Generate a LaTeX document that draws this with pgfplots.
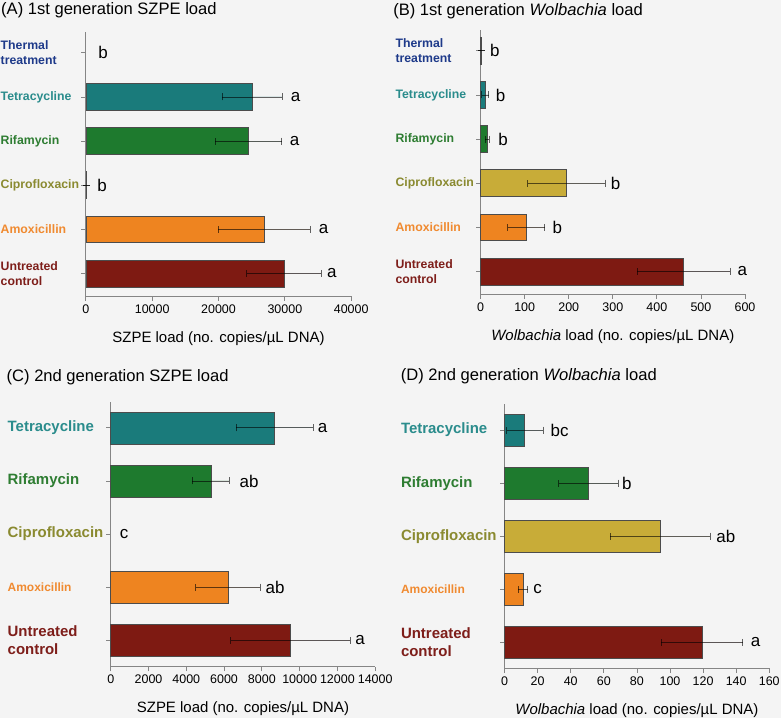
\documentclass[border=0pt]{standalone}
\usepackage{pgfplots}
\pgfplotsset{compat=1.18}
\usepackage{fontspec}
\setmainfont{Liberation Sans}
\definecolor{bg}{HTML}{F4F4F4}
\definecolor{thermL}{HTML}{1E3A8A}
\definecolor{tetB}{HTML}{1A7B7B}
\definecolor{tetL}{HTML}{2A8C8C}
\definecolor{rifB}{HTML}{1E7A2E}
\definecolor{rifL}{HTML}{2E7D32}
\definecolor{ciB}{HTML}{C8AC38}
\definecolor{ciL}{HTML}{8A8A30}
\definecolor{amB}{HTML}{EE8420}
\definecolor{amL}{HTML}{F08A30}
\definecolor{unB}{HTML}{7E1A12}
\definecolor{unL}{HTML}{7E1E1A}
\definecolor{axgray}{HTML}{858585}
\tikzset{lett/.style={anchor=west, inner sep=0pt, font=\fontsize{17}{20}\selectfont}}
\pgfplotsset{
 panel/.style={
  scale only axis, anchor=south west, xbar, bar shift=0pt,
  axis x line*=bottom, axis y line*=left,
  axis line style={axgray, line width=0.8pt},
  tick style={axgray, line width=0.8pt},
  tick align=outside, major tick length=4.5pt,
  xmin=0, scaled x ticks=false,
  /pgf/number format/1000 sep={},
  /pgf/number format/assume math mode=true,
  xticklabel style={font=\fontsize{12.5}{15}\selectfont},
  yticklabel style={font=\fontsize{12.3}{14.6}\selectfont\bfseries, align=left, anchor=west, inner sep=0pt},
  x label style={at={(axis description cs:0.5,0)}, anchor=base, yshift=-46pt, font=\fontsize{15}{18}\selectfont},
  every axis plot/.append style={draw=black!70, line width=0.6pt},
  error bars/x dir=both, error bars/x explicit,
  error bars/error mark=|,
  error bars/error bar style={draw=black, draw opacity=0.6, line width=0.8pt},
  error bars/error mark options={draw=black, draw opacity=0.6, mark size=3.5pt, line width=0.8pt},
  clip=false,
 },
}
\begin{document}
\begin{tikzpicture}[x=1pt,y=1pt]
\fill[bg] (0,0) rectangle (783,720);
\node[anchor=base west, inner sep=0pt, font=\fontsize{16.6}{20}\selectfont] at (1,705) {(A) 1st generation SZPE load};
\node[anchor=base west, inner sep=0pt, font=\fontsize{16.6}{20}\selectfont] at (394,704) {(B) 1st generation \textit{Wolbachia} load};
\node[anchor=base west, inner sep=0pt, font=\fontsize{16.6}{20}\selectfont] at (6.5,337.5) {(C) 2nd generation SZPE load};
\node[anchor=base west, inner sep=0pt, font=\fontsize{16.6}{20}\selectfont] at (401.5,338.5) {(D) 2nd generation \textit{Wolbachia} load};

% (A)
\begin{axis}[panel, at={(86pt,423pt)}, width=266pt, height=265pt,
  xmax=40000, xtick={0,10000,20000,30000,40000},
  ymin=-0.52, ymax=5.475, ytick={0,1,2,3,4,5}, bar width=0.61,
  yticklabel style={xshift=-81pt},
  yticklabels={{\textcolor{unL}{Untreated}\\\textcolor{unL}{control}},
    {\textcolor{amL}{Amoxicillin}},{\textcolor{ciL}{Ciprofloxacin}},
    {\textcolor{rifL}{Rifamycin}},{\textcolor{tetL}{Tetracycline}},
    {\textcolor{thermL}{Thermal}\\\textcolor{thermL}{treatment}}},
  xlabel={SZPE load (no. copies/µL DNA)}]
\addplot[fill=unB] coordinates {(29860,0) +- (5600,0)};
\addplot[fill=amB] coordinates {(26900,1) +- (6950,0)};
\addplot[fill=ciB] coordinates {(120,2) +- (0,0)};
\addplot[fill=rifB] coordinates {(24500,3) +- (5000,0)};
\addplot[fill=tetB] coordinates {(25100,4) +- (4500,0)};
\node[lett] at (axis cs:36330,0) {a};
\node[lett] at (axis cs:35080,1) {a};
\node[lett] at (axis cs:1700,2) {b};
\node[lett] at (axis cs:30710,3) {a};
\node[lett] at (axis cs:30860,4) {a};
\node[lett] at (axis cs:1850,5) {b};
\end{axis}

% (B)
\begin{axis}[panel, at={(481.7pt,425pt)}, width=265pt, height=265pt,
  xmax=600, xtick={0,100,...,600},
  ymin=-0.52, ymax=5.475, ytick={0,1,2,3,4,5}, bar width=0.61,
  yticklabel style={xshift=-81pt},
  yticklabels={{\textcolor{unL}{Untreated}\\\textcolor{unL}{control}},
    {\textcolor{amL}{Amoxicillin}},{\textcolor{ciL}{Ciprofloxacin}},
    {\textcolor{rifL}{Rifamycin}},{\textcolor{tetL}{Tetracycline}},
    {\textcolor{thermL}{Thermal}\\\textcolor{thermL}{treatment}}},
  xlabel={\textit{Wolbachia} load (no. copies/µL DNA)}]
\addplot[fill=unB] coordinates {(461,0) +- (106,0)};
\addplot[fill=amB] coordinates {(103,1) +- (42,0)};
\addplot[fill=ciB] coordinates {(195,2) +- (88,0)};
\addplot[fill=rifB] coordinates {(15,3) +- (5,0)};
\addplot[fill=tetB] coordinates {(10,4) +- (8,0)};
\addplot[fill=thermL] coordinates {(2,5) +- (0,0)};
\node[lett] at (axis cs:583,0) {a};
\node[lett] at (axis cs:163,1) {b};
\node[lett] at (axis cs:295,2) {b};
\node[lett] at (axis cs:40,3) {b};
\node[lett] at (axis cs:34,4) {b};
\node[lett] at (axis cs:21,5) {b};
\end{axis}

% (C)
\begin{axis}[panel, at={(111pt,51.7pt)}, width=265pt, height=265pt,
  xmax=14000, xtick={0,2000,...,14000},
  ymin=-0.5, ymax=4.48, ytick={0,1,2,3,4}, bar width=0.6,
  yticklabel style={xshift=-99pt, font=\fontsize{15}{17.5}\selectfont\bfseries},
  yticklabels={{\textcolor{unL}{Untreated}\\\textcolor{unL}{control}},
    {\fontsize{12}{14}\selectfont\textcolor{amL}{Amoxicillin}},{\textcolor{ciL}{Ciprofloxacin}},
    {\textcolor{rifL}{Rifamycin}},{\textcolor{tetL}{Tetracycline}}},
  xlabel={SZPE load (no. copies/µL DNA)}]
\addplot[fill=unB] coordinates {(9510,0) +- (3160,0)};
\addplot[fill=amB] coordinates {(6200,1) +- (1700,0)};
\addplot[fill=rifB] coordinates {(5300,3) +- (985,0)};
\addplot[fill=tetB] coordinates {(8680,4) +- (2025,0)};
\node[lett] at (axis cs:12943,0) {a};
\node[lett] at (axis cs:8190,1) {ab};
\node[lett] at (axis cs:475,2) {c};
\node[lett] at (axis cs:6815,3) {ab};
\node[lett] at (axis cs:10950,4) {a};
\end{axis}

% (D)
\begin{axis}[panel, at={(505.7pt,50pt)}, width=265.3pt, height=265pt,
  xmax=160, xtick={0,20,...,160},
  ymin=-0.494, ymax=4.49, ytick={0,1,2,3,4}, bar width=0.6,
  yticklabel style={xshift=-99.5pt, font=\fontsize{15}{17.5}\selectfont\bfseries},
  yticklabels={{\textcolor{unL}{Untreated}\\\textcolor{unL}{control}},
    {\fontsize{12}{14}\selectfont\textcolor{amL}{Amoxicillin}},{\textcolor{ciL}{Ciprofloxacin}},
    {\textcolor{rifL}{Rifamycin}},{\textcolor{tetL}{Tetracycline}}},
  xlabel={\textit{Wolbachia} load (no. copies/µL DNA)}]
\addplot[fill=unB] coordinates {(119.4,0) +- (24.6,0)};
\addplot[fill=amB] coordinates {(11.2,1) +- (2.8,0)};
\addplot[fill=ciB] coordinates {(94,2) +- (30.2,0)};
\addplot[fill=rifB] coordinates {(50.7,3) +- (18,0)};
\addplot[fill=tetB] coordinates {(12.2,4) +- (11,0)};
\node[lett] at (axis cs:148.7,0) {a};
\node[lett] at (axis cs:17.3,1) {c};
\node[lett] at (axis cs:127.9,2) {ab};
\node[lett] at (axis cs:70.9,3) {b};
\node[lett] at (axis cs:27.7,4) {bc};
\end{axis}
\end{tikzpicture}
\end{document}
